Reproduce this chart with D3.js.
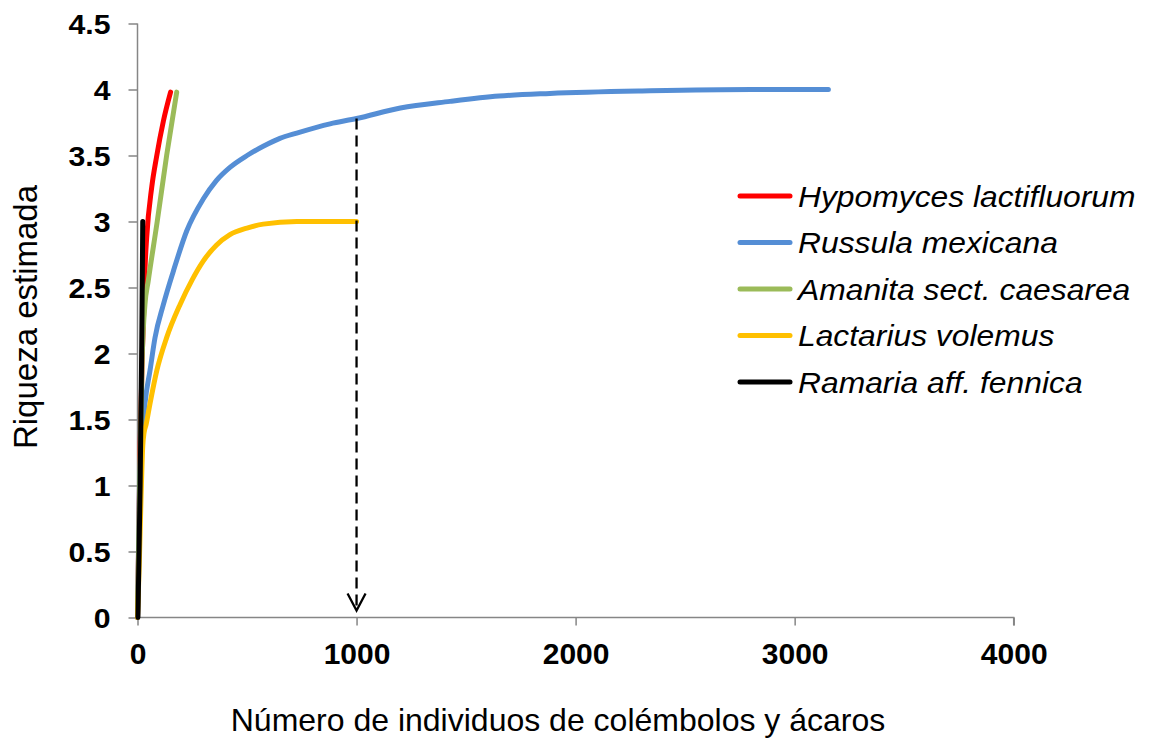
<!DOCTYPE html>
<html>
<head>
<meta charset="utf-8">
<script src="https://cdn.jsdelivr.net/npm/d3@7"></script>
<style>
  html, body { margin: 0; padding: 0; background: #fff; }
  svg { display: block; font-family: Arial, "Liberation Sans", sans-serif; }
</style>
</head>
<body>
<svg id="chart" width="1150" height="738"></svg>
<script>
// ---- data ----
const seriesNames = ["Hypomyces lactifluorum", "Russula mexicana", "Amanita sect. caesarea", "Lactarius volemus", "Ramaria aff. fennica"];
const seriesColors = ["#FF0000", "#558ED5", "#9BBB59", "#FFC000", "#000000"];

const redX = [0, 12, 22, 30, 34, 42, 65, 87, 118, 151];
const redY = [0, 1.3, 2.0, 2.4, 2.63, 2.88, 3.26, 3.49, 3.76, 3.98];

const blueX = [0, 10, 27, 34, 57, 80, 118, 163, 225, 300, 360, 422, 500, 574, 650, 727, 879, 1000, 1200, 1427, 1650, 1883, 2340, 2800, 3154];
const blueY = [0, 1.1, 1.49, 1.62, 1.87, 2.12, 2.37, 2.62, 2.93, 3.17, 3.31, 3.41, 3.50, 3.57, 3.63, 3.67, 3.74, 3.78, 3.86, 3.91, 3.95, 3.97, 3.99, 4.0, 4.0];

const greenX = [0, 12, 22, 34, 49, 90, 133, 179];
const greenY = [0, 1.2, 2.0, 2.37, 2.55, 3.0, 3.5, 3.98];

const yellowX = [0, 8, 16, 24, 30, 39, 57, 88, 133, 194, 250, 300, 360, 422, 500, 574, 727, 850, 1000];
const yellowY = [0, 0.4, 0.9, 1.3, 1.4, 1.46, 1.62, 1.87, 2.12, 2.37, 2.56, 2.70, 2.82, 2.90, 2.95, 2.98, 3.0, 3.0, 3.0];

const blackX = [2, 12, 19, 24];
const blackY = [0, 1.0, 2.0, 3.0];

const xTicks = [0, 1000, 2000, 3000, 4000];
const yTicks = [0, 0.5, 1, 1.5, 2, 2.5, 3, 3.5, 4, 4.5];
const arrowX = 1000;
const arrowTopY = 3.78;

const xTitle = "Número de individuos de colémbolos y ácaros";
const yTitle = "Riqueza estimada";

// ---- chart ----
const svg = d3.select("#chart");
const x = d3.scaleLinear().domain([0, 4000]).range([137.5, 1013.7]);
const y = d3.scaleLinear().domain([0, 4.5]).range([617.5, 23.5]);

const axisColor = "#868686";

function stretch(sel, f) {
  sel.each(function () {
    const w = this.getComputedTextLength();
    d3.select(this).attr("textLength", w * f).attr("lengthAdjust", "spacingAndGlyphs");
  });
}

const gx = svg.append("g").attr("transform", `translate(0,${y(0)})`)
  .call(d3.axisBottom(x).tickValues(xTicks).tickSize(8).tickPadding(17).tickFormat(d3.format("d")));
const gy = svg.append("g").attr("transform", `translate(${x(0)},0)`)
  .call(d3.axisLeft(y).tickValues(yTicks).tickSize(9).tickPadding(18).tickFormat(d => String(d)));

[gx, gy].forEach(g => {
  g.select(".domain").attr("stroke", axisColor).attr("stroke-width", 1.5);
  g.selectAll(".tick line").attr("stroke", axisColor).attr("stroke-width", 1.5);
  g.selectAll(".tick text").attr("fill", "#000").attr("font-weight", "bold")
    .attr("font-family", "Arial, 'Liberation Sans', sans-serif");
});
gx.selectAll(".tick text").attr("font-size", 30).attr("dy", "0.71em");
gy.selectAll(".tick text").attr("font-size", 28).attr("dy", "0.36em");
stretch(gy.selectAll(".tick text"), 1.08);
gy.select(".domain").attr("d", `M-0,${y(4.5)}H0V${y(0)}H-0`);
gx.select(".domain").attr("d", `M${x(0)},0V0H${x(4000)}V8`);

// curves
const allX = [redX, blueX, greenX, yellowX, blackX];
const allY = [redY, blueY, greenY, yellowY, blackY];
const line = d3.line().x(d => x(d[0])).y(d => y(d[1])).curve(d3.curveMonotoneX);

allX.forEach((xs, i) => {
  const pts = xs.map((v, j) => [v, allY[i][j]]);
  svg.append("path").datum(pts)
    .attr("d", line)
    .attr("fill", "none")
    .attr("stroke", seriesColors[i])
    .attr("stroke-width", 5)
    .attr("stroke-linecap", "round")
    .attr("stroke-linejoin", "round");
});

// dashed arrow
const ax = x(arrowX);
const tipY = y(0) - 7;
svg.append("line").attr("x1", ax).attr("x2", ax).attr("y1", y(arrowTopY)).attr("y2", tipY)
  .attr("stroke", "#000").attr("stroke-width", 2.3).attr("stroke-dasharray", "11,6");
svg.append("path").attr("d", `M${ax - 9},${tipY - 17}L${ax},${tipY}L${ax + 9},${tipY - 17}`)
  .attr("fill", "none").attr("stroke", "#000").attr("stroke-width", 2.3);

// legend
const legend = svg.append("g");
const legY0 = 196, legDY = 46.5;
seriesNames.forEach((name, i) => {
  const ly = legY0 + i * legDY;
  legend.append("line").attr("x1", 740).attr("x2", 790).attr("y1", ly).attr("y2", ly)
    .attr("stroke", seriesColors[i]).attr("stroke-width", 5).attr("stroke-linecap", "round");
  legend.append("text").attr("x", 798).attr("y", ly).attr("dy", "0.36em")
    .attr("font-size", 30).attr("font-style", "italic").attr("fill", "#000").text(name);
});
stretch(legend.selectAll("text"), 1.06);

// axis titles
svg.append("text").attr("x", 558).attr("y", 731).attr("text-anchor", "middle")
  .attr("font-size", 32).attr("fill", "#000").text(xTitle);
svg.append("text").attr("transform", `translate(37,317) rotate(-90)`).attr("text-anchor", "middle")
  .attr("font-size", 33).attr("fill", "#000").text(yTitle);
</script>
</body>
</html>
